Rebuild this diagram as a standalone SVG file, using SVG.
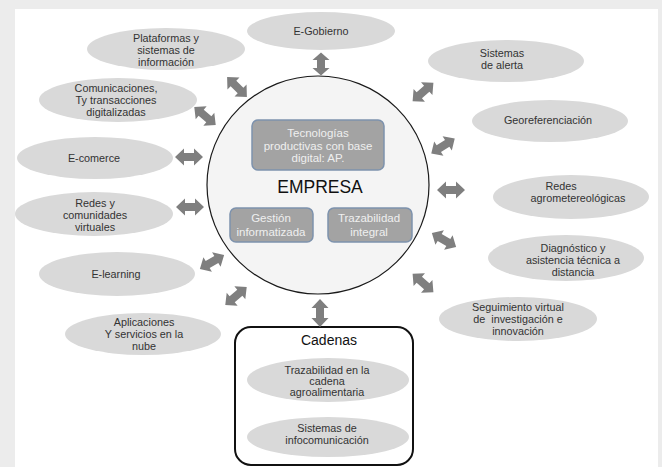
<svg xmlns="http://www.w3.org/2000/svg" xmlns:xlink="http://www.w3.org/1999/xlink" width="662" height="467" viewBox="0 0 662 467">
<style>
.ell{fill:#d9d9d9;}
.t{font-family:"Liberation Sans",Arial,sans-serif;font-size:10.8px;fill:#333333;text-anchor:middle;}
.bx{fill:#a3a3a3;stroke:#7d92ad;stroke-width:1.5;}
.bt{font-family:"Liberation Sans",Arial,sans-serif;font-size:11.5px;fill:#efefef;text-anchor:middle;}
.arr{fill:#7f7f7f;}
</style>
<defs>
<path id="dbl" d="M-14,0 L-5,-8.5 L-5,-4 L5,-4 L5,-8.5 L14,0 L5,8.5 L5,4 L-5,4 L-5,8.5 Z"/>
</defs>
<rect x="0" y="0" width="662" height="467" fill="#ececec"/>
<rect x="15" y="9" width="643" height="458" fill="#ffffff"/>

<g id="empresa">
<ellipse cx="318" cy="185" rx="111" ry="109" fill="#f4f4f4" stroke="#1a1a1a" stroke-width="1.2"/>
<rect class="bx" x="252" y="120" width="132" height="50" rx="6"/>
<text class="bt" x="318" y="137">Tecnologías</text>
<text class="bt" x="318" y="150">productivas con base</text>
<text class="bt" x="318" y="162">digital: AP.</text>
<text x="320" y="193" font-family="Liberation Sans,Arial,sans-serif" font-size="17.5" fill="#111" text-anchor="middle">EMPRESA</text>
<rect class="bx" x="230" y="208" width="83" height="34" rx="6"/>
<text class="bt" x="271" y="222">Gestión</text>
<text class="bt" x="271" y="236">informatizada</text>
<rect class="bx" x="328" y="208" width="84" height="34" rx="6"/>
<text class="bt" x="369" y="222">Trazabilidad</text>
<text class="bt" x="369" y="236">integral</text>
</g>

<g id="egobierno">
<ellipse class="ell" cx="321" cy="31" rx="74" ry="19"/>
<text class="t" x="321" y="35">E-Gobierno</text>
</g>
<g id="plataformas">
<ellipse class="ell" cx="166" cy="49" rx="79" ry="21"/>
<text class="t" x="166" y="42">Plataformas y</text>
<text class="t" x="166" y="54">sistemas de</text>
<text class="t" x="166" y="66">información</text>
</g>
<g id="comunicaciones">
<ellipse class="ell" cx="118" cy="100" rx="79" ry="22"/>
<text class="t" x="116" y="92">Comunicaciones,</text>
<text class="t" x="116" y="104">Ty transacciones</text>
<text class="t" x="116" y="116">digitalizadas</text>
</g>
<g id="ecomerce">
<ellipse class="ell" cx="95" cy="158" rx="78" ry="21"/>
<text class="t" x="94" y="162">E-comerce</text>
</g>
<g id="redes-comunidades">
<ellipse class="ell" cx="94" cy="214" rx="79" ry="22"/>
<text class="t" x="95" y="207">Redes y</text>
<text class="t" x="95" y="219">comunidades</text>
<text class="t" x="95" y="231">virtuales</text>
</g>
<g id="elearning">
<ellipse class="ell" cx="117" cy="274" rx="78" ry="22"/>
<text class="t" x="116" y="278">E-learning</text>
</g>
<g id="aplicaciones">
<ellipse class="ell" cx="143" cy="334" rx="78" ry="21"/>
<text class="t" x="144" y="326">Aplicaciones</text>
<text class="t" x="144" y="338">Y servicios en la</text>
<text class="t" x="144" y="350">nube</text>
</g>
<g id="alerta">
<ellipse class="ell" cx="506" cy="61" rx="78" ry="21"/>
<text class="t" x="502" y="57">Sistemas</text>
<text class="t" x="502" y="69">de alerta</text>
</g>
<g id="georef">
<ellipse class="ell" cx="550" cy="121" rx="78" ry="21"/>
<text class="t" x="548" y="124">Georeferenciación</text>
</g>
<g id="agromet">
<ellipse class="ell" cx="571" cy="197" rx="78" ry="22"/>
<text class="t" x="561" y="190">Redes</text>
<text class="t" x="578" y="202">agrometereológicas</text>
</g>
<g id="diagnostico">
<ellipse class="ell" cx="566" cy="258" rx="78" ry="23"/>
<text class="t" x="573" y="252">Diagnóstico y</text>
<text class="t" x="573" y="264">asistencia técnica a</text>
<text class="t" x="573" y="276">distancia</text>
</g>
<g id="seguimiento">
<ellipse class="ell" cx="518" cy="319" rx="79" ry="22"/>
<text class="t" x="518" y="311">Seguimiento virtual</text>
<text class="t" x="518" y="323" xml:space="preserve">de  investigación e</text>
<text class="t" x="518" y="335">innovación</text>
</g>

<g id="cadenas">
<rect x="235" y="327" width="178" height="138" rx="16" fill="#ffffff" stroke="#111" stroke-width="2"/>
<text x="329" y="345" font-family="Liberation Sans,Arial,sans-serif" font-size="14" fill="#111" text-anchor="middle">Cadenas</text>
<ellipse class="ell" cx="328" cy="380" rx="81" ry="22"/>
<text class="t" x="327" y="374">Trazabilidad en la</text>
<text class="t" x="327" y="385">cadena</text>
<text class="t" x="327" y="396">agroalimentaria</text>
<ellipse class="ell" cx="328" cy="437" rx="81" ry="20"/>
<text class="t" x="327" y="432">Sistemas de</text>
<text class="t" x="327" y="444">infocomunicación</text>
</g>

<g id="connectors" class="arr">
<use xlink:href="#dbl" transform="translate(321,64) rotate(90) scale(0.82,1)"/>
<use xlink:href="#dbl" transform="translate(237,87) rotate(45)"/>
<use xlink:href="#dbl" transform="translate(205,116) rotate(40)"/>
<use xlink:href="#dbl" transform="translate(189,157)"/>
<use xlink:href="#dbl" transform="translate(190,207)"/>
<use xlink:href="#dbl" transform="translate(212,262) rotate(-30)"/>
<use xlink:href="#dbl" transform="translate(236,296) rotate(-40)"/>
<use xlink:href="#dbl" transform="translate(320,313) rotate(90)"/>
<use xlink:href="#dbl" transform="translate(423,92) rotate(-42)"/>
<use xlink:href="#dbl" transform="translate(443,146) rotate(-33)"/>
<use xlink:href="#dbl" transform="translate(451,190)"/>
<use xlink:href="#dbl" transform="translate(444,240) rotate(30)"/>
<use xlink:href="#dbl" transform="translate(423,283) rotate(42)"/>
</g>
</svg>
